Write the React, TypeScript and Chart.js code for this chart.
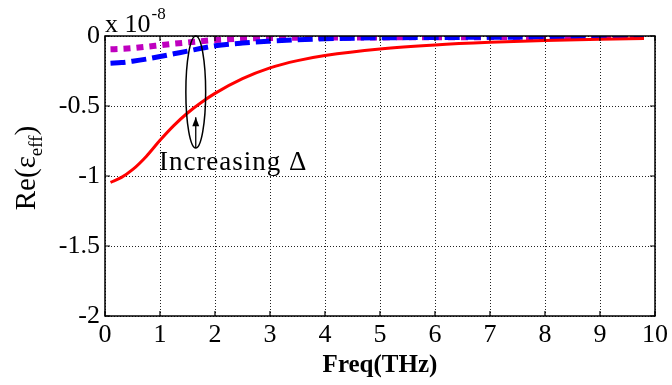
import { useEffect, useRef } from "react";
import { Chart, registerables } from "chart.js";

Chart.register(...registerables);

// Frequency samples (THz)
const freq = [0.1, 0.3, 0.5, 0.75, 1, 1.25, 1.5, 1.75, 2, 2.5, 3, 3.5, 4, 5, 6, 7, 8, 9, 9.8];

// Re(eps_eff) in units of 1e-8 for the three Δ values
const epsSmallDelta = [-1.045, -1.01, -0.955, -0.86, -0.745, -0.64, -0.55, -0.475, -0.41, -0.305, -0.228, -0.176, -0.14, -0.093, -0.064, -0.045, -0.032, -0.023, -0.018];
const epsMidDelta = [-0.195, -0.19, -0.18, -0.165, -0.147, -0.127, -0.108, -0.088, -0.07, -0.05, -0.037, -0.027, -0.02, -0.013, -0.011, -0.009, -0.008, -0.008, -0.008];
const epsLargeDelta = [-0.095, -0.092, -0.087, -0.077, -0.066, -0.055, -0.046, -0.037, -0.029, -0.019, -0.015, -0.013, -0.011, -0.01, -0.009, -0.008, -0.008, -0.007, -0.007];

const xTickValues = [0, 1, 2, 3, 4, 5, 6, 7, 8, 9, 10];
const yTickValues = [0, -0.5, -1, -1.5, -2];
const yTickLabels = ["0", "-0.5", "-1", "-1.5", "-2"];

const xTitle = "Freq(THz)";
const yTitleMain = "Re(ε";
const yTitleSub = "eff";
const yTitleEnd = ")";
const exponentBase = "x 10";
const exponentPower = "-8";
const annotationText = "Increasing Δ";

// annotation geometry in data units
const ringCenter = { x: 1.65, y: -0.4 };
const ringRadius = { x: 0.18, y: 0.4 };
const arrowFrom = { x: 1.65, y: -0.8 };
const arrowTo = { x: 1.65, y: -0.58 };
const textAnchor = { x: 0.98, y: -0.905 };

const SERIF = "'Liberation Serif', 'DejaVu Serif', serif";

const decorations = {
  id: "decorations",
  afterDraw(chart: any) {
    const { ctx, chartArea: a, scales } = chart;
    const x = scales.x;
    const y = scales.y;
    ctx.save();

    // axes box
    ctx.strokeStyle = "#000";
    ctx.lineWidth = 1.5;
    ctx.setLineDash([]);
    ctx.strokeRect(a.left, a.top, a.right - a.left, a.bottom - a.top);

    // inward tick marks on all four sides
    ctx.lineWidth = 1.2;
    ctx.beginPath();
    for (const v of xTickValues) {
      const px = x.getPixelForValue(v);
      ctx.moveTo(px, a.bottom);
      ctx.lineTo(px, a.bottom - 5);
      ctx.moveTo(px, a.top);
      ctx.lineTo(px, a.top + 5);
    }
    for (const v of yTickValues) {
      const py = y.getPixelForValue(v);
      ctx.moveTo(a.left, py);
      ctx.lineTo(a.left + 5, py);
      ctx.moveTo(a.right, py);
      ctx.lineTo(a.right - 5, py);
    }
    ctx.stroke();

    // ellipse around curves
    const cx = x.getPixelForValue(ringCenter.x);
    const cy = y.getPixelForValue(ringCenter.y);
    const rx = Math.abs(x.getPixelForValue(ringCenter.x + ringRadius.x) - cx);
    const ry = Math.abs(y.getPixelForValue(ringCenter.y + ringRadius.y) - cy);
    ctx.lineWidth = 1.5;
    ctx.beginPath();
    ctx.ellipse(cx, cy, rx, ry, 0, 0, Math.PI * 2);
    ctx.stroke();

    // arrow
    const ax0 = x.getPixelForValue(arrowFrom.x);
    const ay0 = y.getPixelForValue(arrowFrom.y);
    const ax1 = x.getPixelForValue(arrowTo.x);
    const ay1 = y.getPixelForValue(arrowTo.y);
    ctx.lineWidth = 1.3;
    ctx.beginPath();
    ctx.moveTo(ax0, ay0);
    ctx.lineTo(ax1, ay1);
    ctx.stroke();
    ctx.beginPath();
    ctx.moveTo(ax1, ay1);
    ctx.lineTo(ax1 - 3.5, ay1 + 9);
    ctx.lineTo(ax1 + 3.5, ay1 + 9);
    ctx.closePath();
    ctx.fillStyle = "#000";
    ctx.fill();

    // annotation text
    ctx.fillStyle = "#000";
    ctx.font = `27px ${SERIF}`;
    (ctx as any).letterSpacing = "1px";
    ctx.textAlign = "left";
    ctx.textBaseline = "middle";
    ctx.fillText(annotationText, x.getPixelForValue(textAnchor.x), y.getPixelForValue(textAnchor.y));
    (ctx as any).letterSpacing = "0px";

    // exponent label
    ctx.textBaseline = "alphabetic";
    ctx.font = `26px ${SERIF}`;
    ctx.fillText(exponentBase, a.left, a.top - 4);
    const baseW = ctx.measureText(exponentBase).width;
    ctx.font = `17px ${SERIF}`;
    ctx.fillText(exponentPower, a.left + baseW + 1, a.top - 17);

    // y axis title with subscript
    ctx.translate(35, (a.top + a.bottom) / 2 - 8);
    ctx.rotate(-Math.PI / 2);
    ctx.font = `29px ${SERIF}`;
    const w1 = ctx.measureText(yTitleMain).width;
    ctx.font = `19px ${SERIF}`;
    const w2 = ctx.measureText(yTitleSub).width;
    ctx.font = `29px ${SERIF}`;
    const w3 = ctx.measureText(yTitleEnd).width;
    let tx = -(w1 + w2 + w3) / 2;
    ctx.fillText(yTitleMain, tx, 0);
    tx += w1;
    ctx.font = `19px ${SERIF}`;
    ctx.fillText(yTitleSub, tx, 7);
    tx += w2;
    ctx.font = `29px ${SERIF}`;
    ctx.fillText(yTitleEnd, tx, 0);

    ctx.restore();
  },
};

export default function App() {
  const canvasRef = useRef<HTMLCanvasElement | null>(null);

  useEffect(() => {
    const canvas = canvasRef.current;
    if (!canvas) return;
    const toPoints = (vals: number[]) => freq.map((f, i) => ({ x: f, y: vals[i] }));

    const chart = new Chart(canvas, {
      type: "line",
      data: {
        datasets: [
          {
            data: toPoints(epsSmallDelta),
            borderColor: "#ff0000",
            borderWidth: 3,
            pointRadius: 0,
            cubicInterpolationMode: "monotone",
            fill: false,
          },
          {
            data: toPoints(epsMidDelta),
            borderColor: "#0000ff",
            borderWidth: 5,
            borderDash: [15, 6],
            pointRadius: 0,
            cubicInterpolationMode: "monotone",
            fill: false,
          },
          {
            data: toPoints(epsLargeDelta),
            borderColor: "#bf00bf",
            borderWidth: 6,
            borderDash: [7, 6],
            pointRadius: 0,
            cubicInterpolationMode: "monotone",
            fill: false,
          },
        ],
      },
      options: {
        responsive: false,
        animation: false,
        layout: { padding: { top: 36, right: 17, left: 0, bottom: 0 } },
        plugins: {
          legend: { display: false },
          tooltip: { enabled: false },
        },
        scales: {
          x: {
            type: "linear",
            min: 0,
            max: 10,
            afterFit: (s: any) => {
              s.height = 69;
            },
            afterBuildTicks: (s: any) => {
              s.ticks = xTickValues.map((v) => ({ value: v }));
            },
            ticks: {
              color: "#000",
              font: { family: SERIF, size: 26 },
              padding: 4,
              maxRotation: 0,
              autoSkip: false,
            },
            grid: {
              color: "#222",
              lineWidth: 1,
              drawTicks: false,
            },
            border: { display: false, dash: [1, 2] },
            title: {
              display: true,
              text: xTitle,
              color: "#000",
              font: { family: SERIF, size: 25, weight: "bold" },
              padding: { top: 0, bottom: 4 },
            },
          },
          y: {
            type: "linear",
            min: -2,
            max: 0,
            afterFit: (s: any) => {
              s.width = 105;
            },
            afterBuildTicks: (s: any) => {
              s.ticks = yTickValues.map((v) => ({ value: v }));
            },
            ticks: {
              color: "#000",
              font: { family: SERIF, size: 26 },
              padding: 5,
              autoSkip: false,
              callback: (v: any) => {
                const i = yTickValues.indexOf(Number(v));
                return i >= 0 ? yTickLabels[i] : "";
              },
            },
            grid: {
              color: "#222",
              lineWidth: 1,
              drawTicks: false,
            },
            border: { display: false, dash: [1, 2] },
          },
        },
      },
      plugins: [decorations],
    } as any);

    return () => chart.destroy();
  }, []);

  return (
    <div style={{ position: "absolute", left: 0, top: 0, width: 672, height: 385, background: "#fff" }}>
      <canvas ref={canvasRef} width={672} height={385} />
    </div>
  );
}
